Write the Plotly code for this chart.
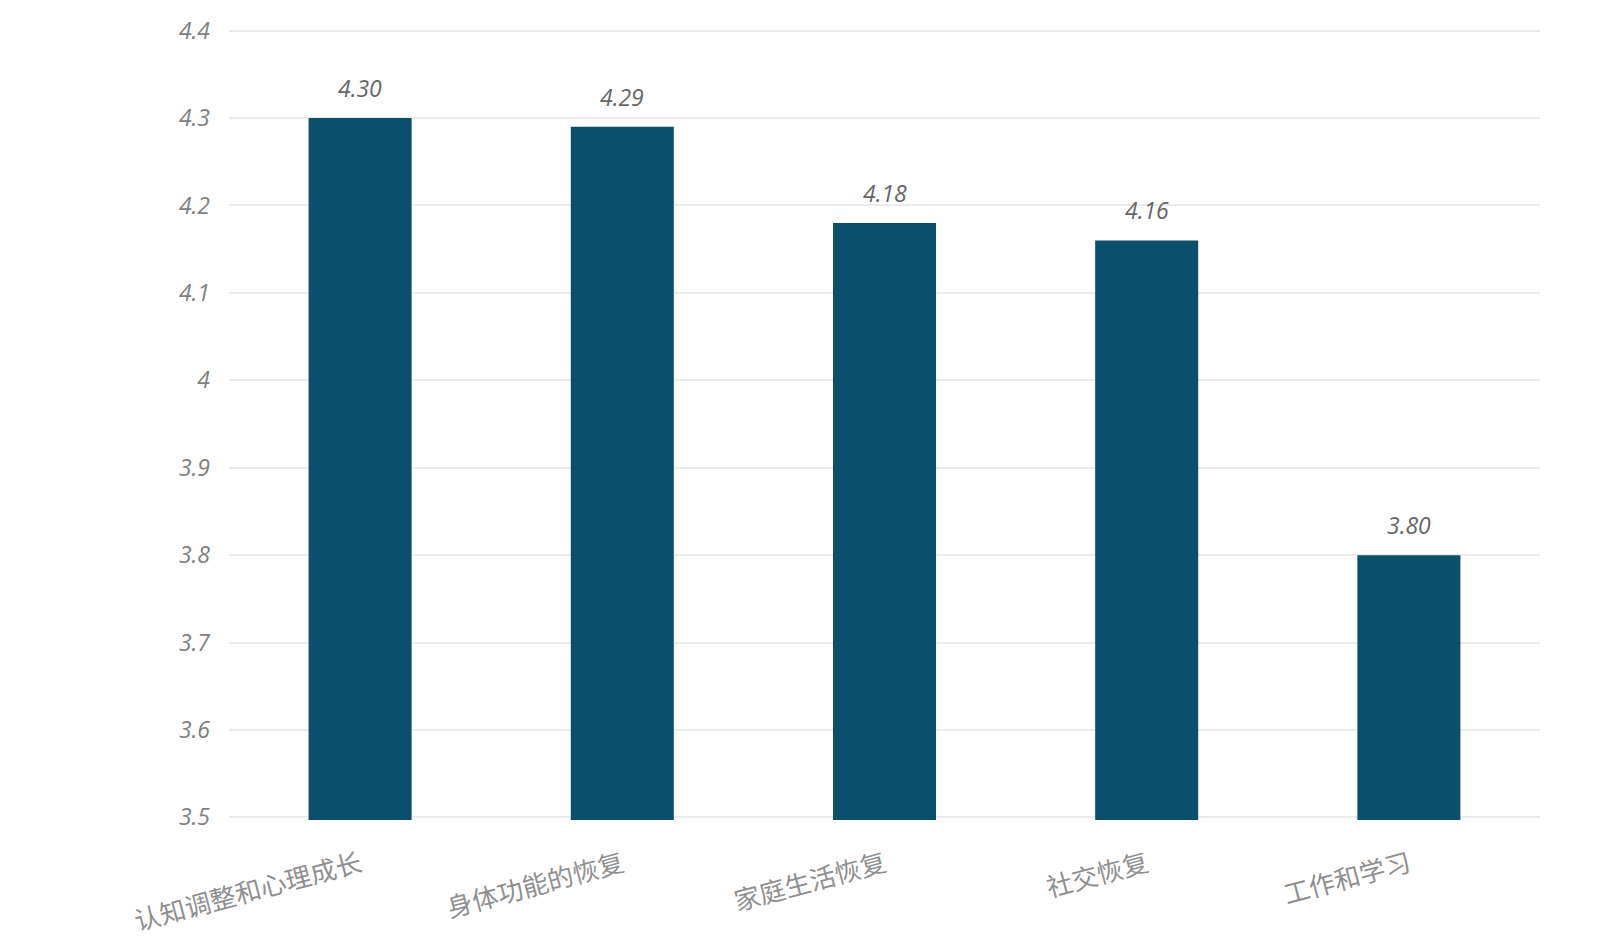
import plotly.graph_objects as go

categories = ["认知调整和心理成长", "身体功能的恢复", "家庭生活恢复", "社交恢复", "工作和学习"]
values = [4.30, 4.29, 4.18, 4.16, 3.80]
y_ticks = [3.5, 3.6, 3.7, 3.8, 3.9, 4.0, 4.1, 4.2, 4.3, 4.4]
y_tick_labels = ["3.5", "3.6", "3.7", "3.8", "3.9", "4", "4.1", "4.2", "4.3", "4.4"]

fig = go.Figure()
fig.add_trace(go.Bar(
    x=categories,
    y=values,
    marker=dict(color="#0a4f6b", line=dict(width=0)),
    cliponaxis=True,
))

for c, v in zip(categories, values):
    fig.add_annotation(
        x=c, y=v, text=f"{v:.2f}", showarrow=False,
        yanchor="bottom", yshift=12,
        font=dict(family="Open Sans, DejaVu Sans", size=23, color="#666666", style="italic"),
    )

fig.update_layout(
    width=1611, height=942,
    margin=dict(l=229, r=71, t=28, b=122),
    paper_bgcolor="white", plot_bgcolor="white",
    bargap=0.607,
    showlegend=False,
    xaxis=dict(
        tickangle=-15, automargin=False,
        tickfont=dict(family="Noto Sans CJK SC", size=26, color="#8f8f8f"),
        showgrid=False, showline=False, ticks="", ticklabelstandoff=24,
    ),
    yaxis=dict(
        range=[3.497, 4.403], automargin=False,
        tickvals=y_ticks, ticktext=y_tick_labels,
        tickfont=dict(family="Open Sans, DejaVu Sans", size=23, color="#808080", style="italic"),
        showgrid=True, gridcolor="#ebebeb", gridwidth=2,
        zeroline=False, showline=False, ticks="", ticklabelstandoff=18,
    ),
)

fig.write_html("out.html")
